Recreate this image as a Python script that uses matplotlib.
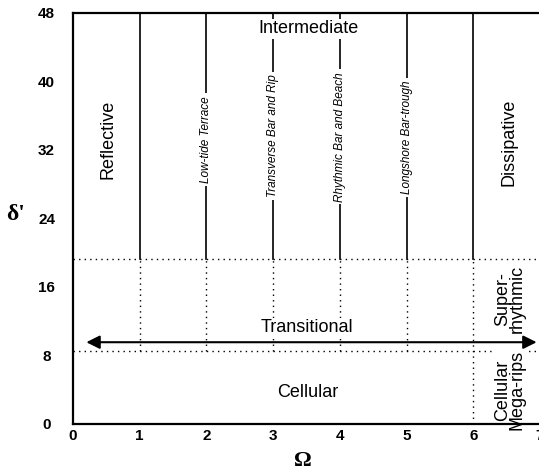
import matplotlib
matplotlib.use("Agg")
import matplotlib.pyplot as plt

# beach state boundaries (Omega) and RTR thresholds
omega_bounds = [1, 2, 3, 4, 5, 6]
rtr_upper = 19.2
rtr_lower = 8.5
arrow_y = 9.5
arrow_x = [0.2, 6.95]

x_ticks = [0, 1, 2, 3, 4, 5, 6, 7]
y_ticks = [0, 8, 16, 24, 32, 40, 48]

# intermediate sub-states written along the lines
sub_labels = ["Low-tide Terrace", "Transverse Bar and Rip",
              "Rhythmic Bar and Beach", "Longshore Bar-trough"]
sub_x = [2, 3, 4, 5]
sub_y = [33.2, 33.6, 33.5, 33.4]

# big region labels: text, x, y, rotation
region_text = ["Reflective", "Intermediate", "Dissipative", "Transitional",
               "Cellular", "Super-\nrhythmic", "Cellular\nMega-rips"]
region_x = [0.53, 3.53, 6.54, 3.5, 3.52, 6.55, 6.55]
region_y = [33.2, 46.1, 32.9, 11.2, 3.6, 14.6, 3.9]
region_rot = [90, 0, 90, 0, 0, 90, 90]

plt.rcParams['font.family'] = ['Liberation Sans', 'DejaVu Sans']

fig = plt.figure(figsize=(5.39, 4.70), dpi=100)
ax = fig.add_axes([0.1354, 0.0989, 0.8664, 0.874])
ax.set_xlim(0, 7)
ax.set_ylim(0, 48)

# solid lines above the upper threshold, dotted below
for xb in omega_bounds:
    ax.plot([xb, xb], [rtr_upper, 48], color='black', lw=1.2, zorder=1)
    lo = 0 if xb == omega_bounds[-1] else rtr_lower
    ax.plot([xb, xb], [lo, rtr_upper], color='black', lw=1.0,
            linestyle=(0, (1, 3)), zorder=1)

for yy in [rtr_upper, rtr_lower]:
    ax.plot([0, 7], [yy, yy], color='black', lw=1.0,
            linestyle=(0, (1, 3)), zorder=1)

ax.annotate("", xy=(arrow_x[0], arrow_y), xytext=(arrow_x[1], arrow_y),
            arrowprops=dict(arrowstyle='<|-|>', color='black', lw=1.5,
                            mutation_scale=20, shrinkA=0, shrinkB=0),
            zorder=2)

for t, xs, ys in zip(sub_labels, sub_x, sub_y):
    ax.text(xs, ys, t, rotation=90, ha='center', va='center',
            fontsize=8.5, style='italic',
            family=['Liberation Sans Narrow', 'Liberation Sans'],
            bbox=dict(facecolor='white', edgecolor='none', pad=2),
            zorder=3)

for t, xs, ys, r in zip(region_text, region_x, region_y, region_rot):
    ax.text(xs, ys, t, rotation=r, ha='center', va='center',
            fontsize=13, linespacing=0.85,
            bbox=dict(facecolor='white', edgecolor='none', pad=1),
            zorder=3)

ax.set_xticks(x_ticks)
ax.set_yticks(y_ticks)
ax.tick_params(length=0, labelsize=11)
ax.tick_params(axis='y', pad=19)
ax.tick_params(axis='x', pad=4)
for lab in ax.get_xticklabels() + ax.get_yticklabels():
    lab.set_fontweight('bold')
for lab in ax.get_yticklabels():
    lab.set_ha('center')

for s in ['left', 'bottom', 'top']:
    ax.spines[s].set_linewidth(1.6)
    ax.spines[s].set_zorder(4)
ax.spines['right'].set_visible(False)

fig.text(16 / 539, 1 - 215 / 470, "δ'", ha='center', va='center',
         fontsize=17, family='Liberation Serif', fontweight='bold')
fig.text(303 / 539, 1 - 461 / 470, "Ω", ha='center', va='center',
         fontsize=16, family='Liberation Serif', fontweight='bold')

fig.savefig("out.png", dpi=100)
